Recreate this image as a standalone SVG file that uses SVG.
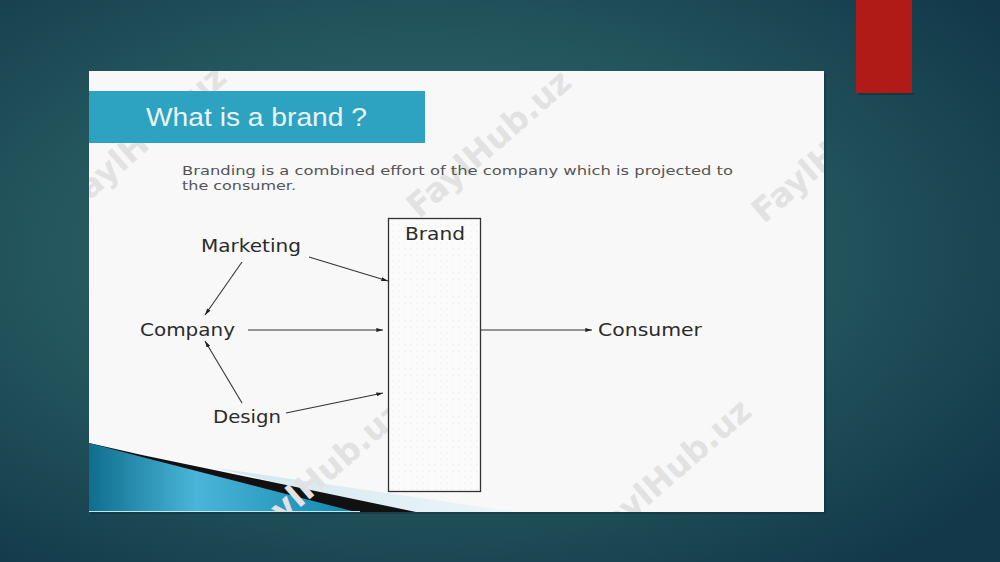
<svg xmlns="http://www.w3.org/2000/svg" width="1000" height="562" viewBox="0 0 1000 562">
<defs>
<radialGradient id="bg" cx="0.42" cy="0.45" r="0.72">
<stop offset="0" stop-color="#2f6867"/>
<stop offset="0.5" stop-color="#25585e"/>
<stop offset="1" stop-color="#12384a"/>
</radialGradient>
<linearGradient id="swoosh" x1="0" y1="0" x2="1" y2="0">
<stop offset="0" stop-color="#0f6e8e"/>
<stop offset="0.4" stop-color="#4ab5d8"/>
<stop offset="1" stop-color="#1386ad"/>
</linearGradient>
<linearGradient id="pale" x1="0" y1="0" x2="1" y2="0">
<stop offset="0" stop-color="#cfe7ef"/>
<stop offset="1" stop-color="#eef6f9"/>
</linearGradient>
<pattern id="dots" width="6" height="6" patternUnits="userSpaceOnUse">
<rect width="6" height="6" fill="#fbfbfb"/>
<circle cx="3" cy="3" r="0.6" fill="#e4e4e4"/>
</pattern>
<clipPath id="panelClip"><rect x="89" y="71" width="735" height="441"/></clipPath>
<marker id="ah" viewBox="0 0 10 6" refX="10" refY="3" markerWidth="7" markerHeight="4" orient="auto" markerUnits="userSpaceOnUse">
<path d="M0,0 L10,3 L0,6 z" fill="#222"/>
</marker>
<style>
.lbl{font-family:"DejaVu Sans",Verdana,sans-serif;font-size:17px;fill:#2b2b2b}
.body{font-family:"DejaVu Sans",Verdana,sans-serif;font-size:13px;fill:#555}
.wm{font-family:"DejaVu Sans",sans-serif;font-weight:bold;font-size:33px;fill:#e2e2e2}
.con{stroke:#333;stroke-width:1.1;fill:none;marker-end:url(#ah)}
</style>
</defs>
<rect width="1000" height="562" fill="url(#bg)"/>
<rect x="856" y="0" width="56" height="93" fill="#b01a17"/>
<rect x="858" y="93" width="56" height="2" fill="#0c2a35" opacity="0.5"/>
<rect x="91" y="73" width="735" height="441" fill="#0a2630" opacity="0.35"/>
<rect x="89" y="71" width="735" height="441" fill="#f8f8f8"/>
<g clip-path="url(#panelClip)">
<polygon points="216,468 516,512 400,512" fill="url(#pale)"/>
<polygon points="89,443 142,455 416,512 89,512" fill="#111"/>
<polygon points="89,443 142,457 356,512 89,512" fill="url(#swoosh)"/>
<line x1="89" y1="511.5" x2="360" y2="511.5" stroke="#bfe8f5" stroke-width="1"/>
<g>
<text class="wm" transform="translate(145,140) rotate(-41)" text-anchor="middle" dominant-baseline="middle">FaylHub.uz</text>
<text class="wm" transform="translate(490,145) rotate(-41)" text-anchor="middle" dominant-baseline="middle">FaylHub.uz</text>
<text class="wm" transform="translate(835,150) rotate(-41)" text-anchor="middle" dominant-baseline="middle">FaylHub.uz</text>
<text class="wm" transform="translate(322,476) rotate(-41)" text-anchor="middle" dominant-baseline="middle">FaylHub.uz</text>
<text class="wm" transform="translate(670,474) rotate(-41)" text-anchor="middle" dominant-baseline="middle">FaylHub.uz</text>
</g>
</g>
<g id="title">
<rect x="89" y="91" width="336" height="52" fill="#2ea2c1"/>
<text x="146" y="126" font-family="Liberation Sans,Arial,sans-serif" font-size="25" fill="#eaf5f8" textLength="221" lengthAdjust="spacingAndGlyphs">What is a brand ?</text>
</g>
<g id="description">
<text class="body" x="182" y="175" textLength="551" lengthAdjust="spacingAndGlyphs">Branding is a combined effort of the company which is projected to</text>
<text class="body" x="182" y="190" textLength="114" lengthAdjust="spacingAndGlyphs">the consumer.</text>
</g>
<g id="brand">
<rect x="388.5" y="218.5" width="92" height="273" fill="url(#dots)" stroke="#333" stroke-width="1.3"/>
<text class="lbl" x="405" y="240" textLength="60" lengthAdjust="spacingAndGlyphs">Brand</text>
</g>
<g id="marketing"><text class="lbl" x="201" y="252" textLength="100" lengthAdjust="spacingAndGlyphs">Marketing</text></g>
<g id="company"><text class="lbl" x="140" y="336" textLength="95" lengthAdjust="spacingAndGlyphs">Company</text></g>
<g id="design"><text class="lbl" x="213" y="423" textLength="68" lengthAdjust="spacingAndGlyphs">Design</text></g>
<g id="consumer"><text class="lbl" x="598" y="336" textLength="104" lengthAdjust="spacingAndGlyphs">Consumer</text></g>
<g id="connectors">
<line class="con" x1="309" y1="257" x2="388" y2="281"/>
<line class="con" x1="242" y1="262" x2="205" y2="315"/>
<line class="con" x1="248" y1="330" x2="383" y2="330"/>
<line class="con" x1="242" y1="403" x2="205" y2="341"/>
<line class="con" x1="286" y1="413" x2="383" y2="393"/>
<line class="con" x1="481" y1="330" x2="592" y2="330"/>
</g>
</svg>
